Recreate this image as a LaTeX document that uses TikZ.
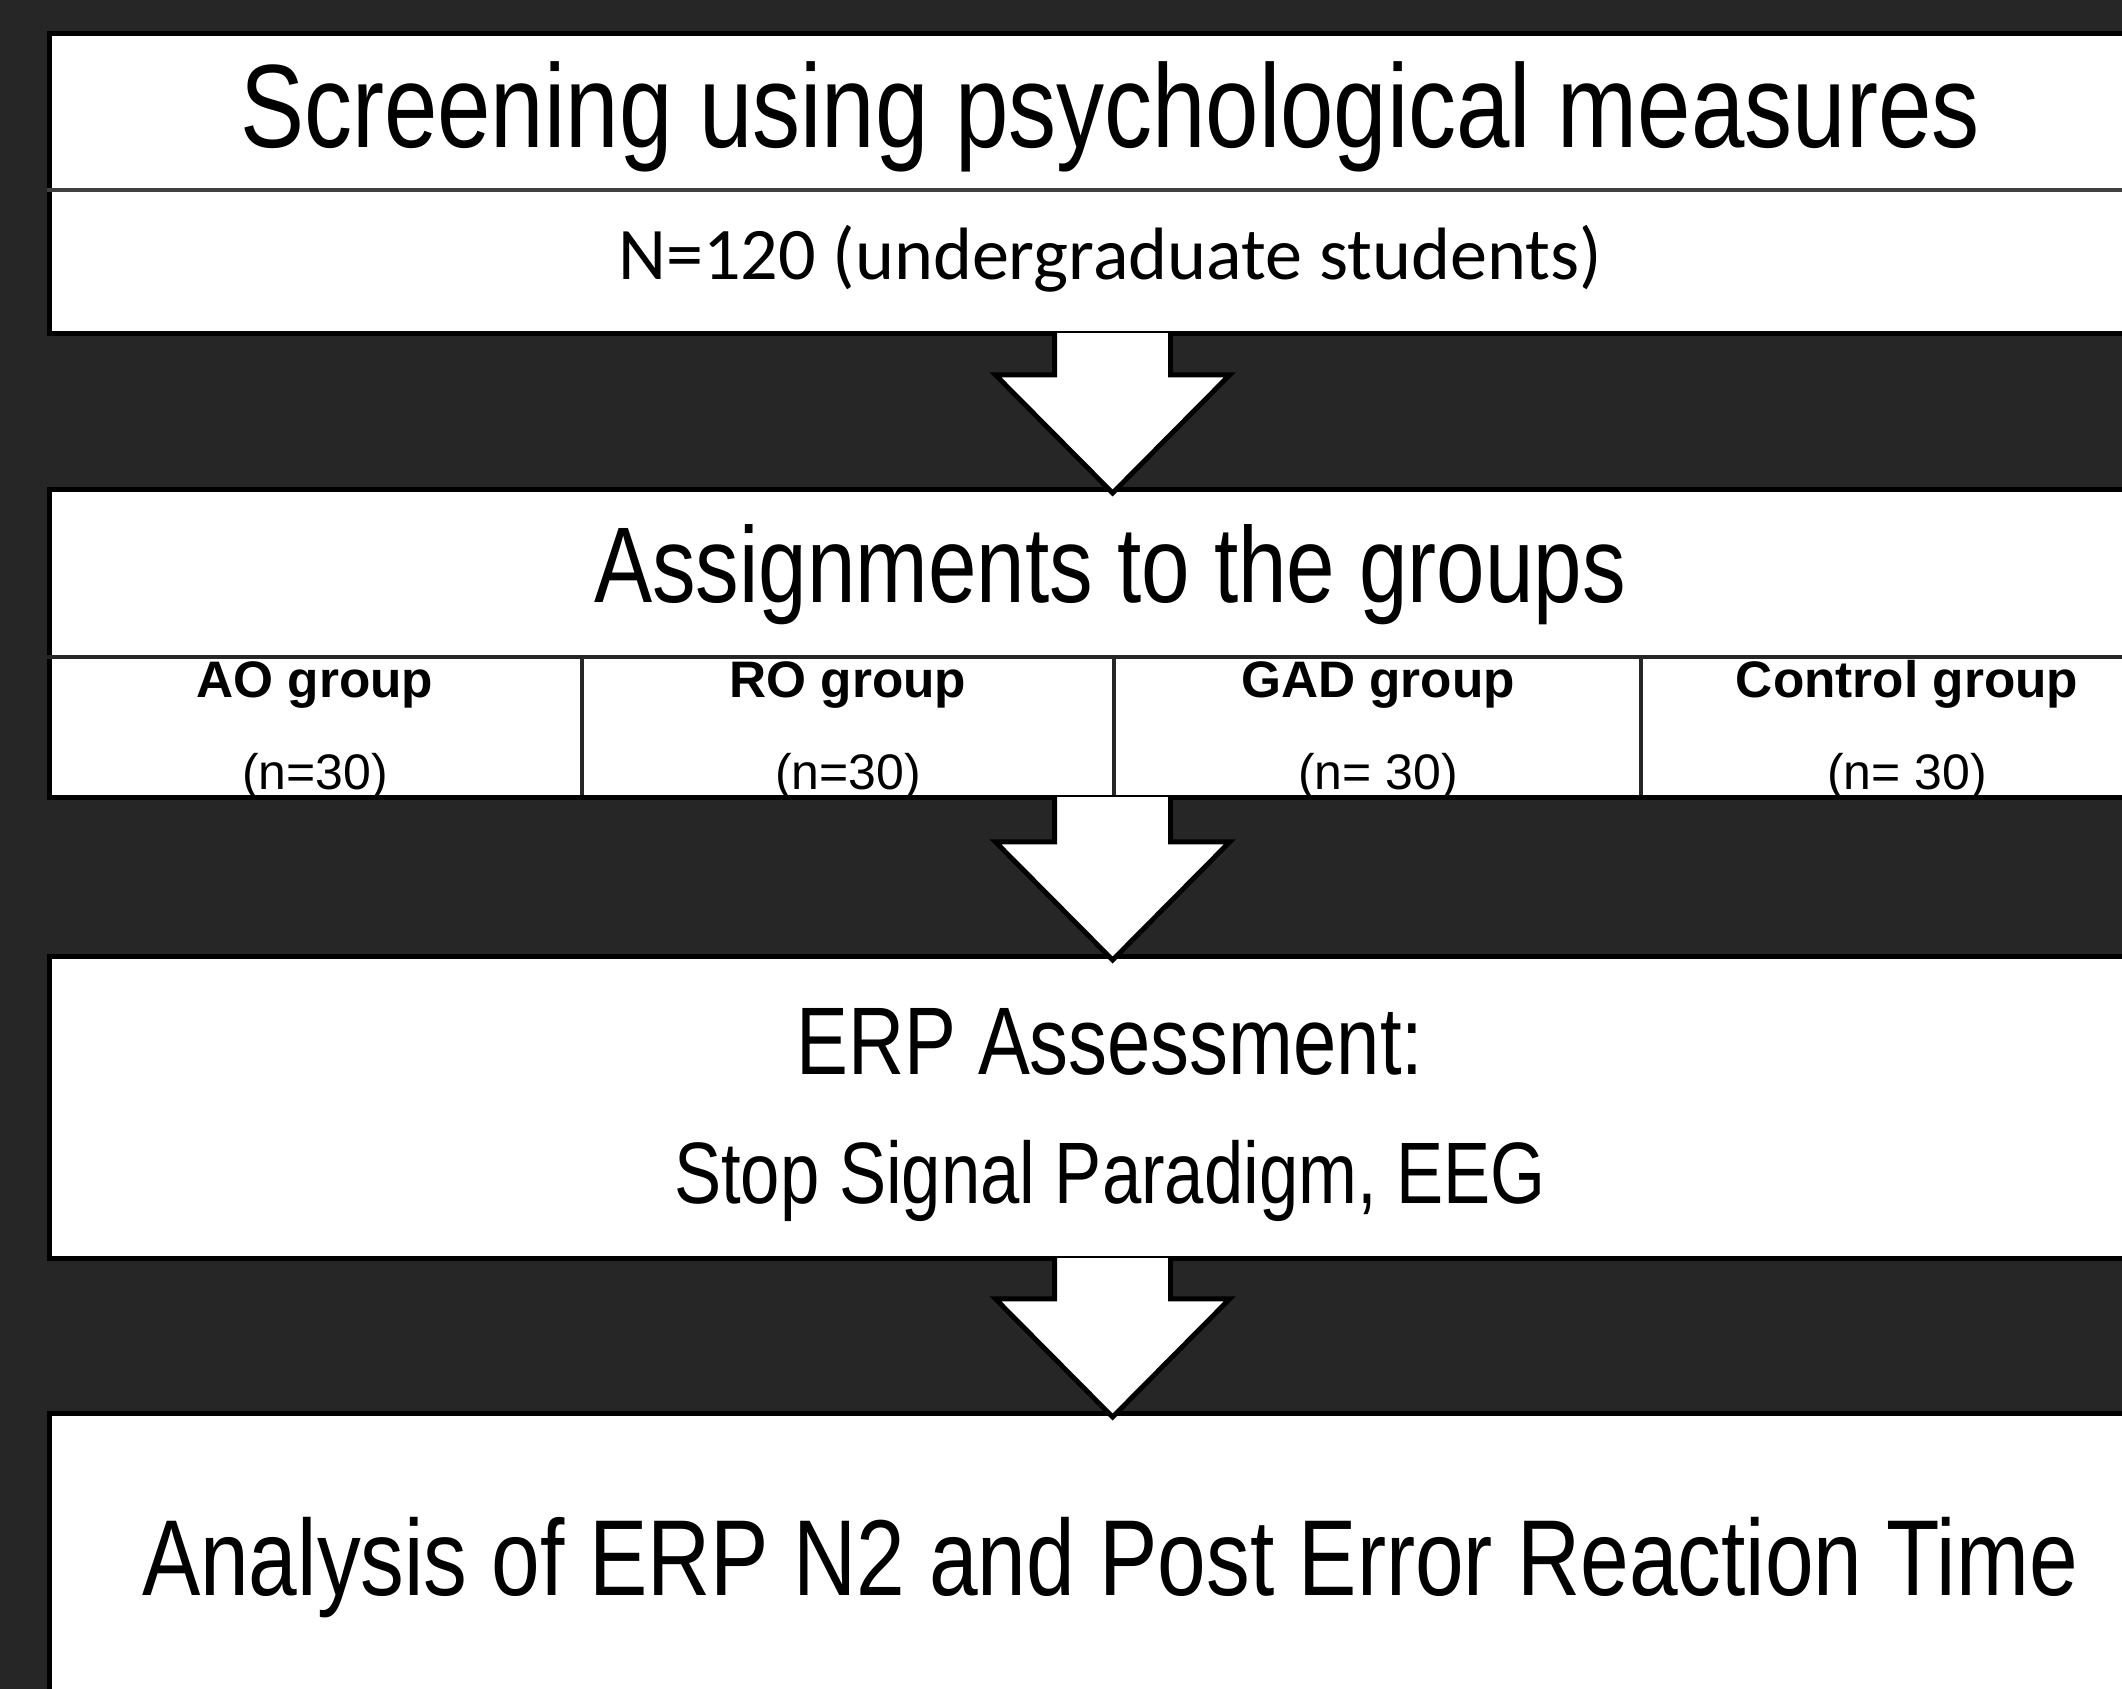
\documentclass[tikz,border=0pt]{standalone}
\usepackage{fontspec}
\setmainfont{Liberation Sans}
\newfontfamily\narrowsf[FakeStretch=0.81]{Liberation Sans}
\newfontfamily\calibrisf{Carlito}
\usetikzlibrary{calc}

\definecolor{bgdark}{HTML}{262626}
\definecolor{rulegray}{HTML}{404040}

\tikzset{
	stage/.style={draw=black, line width=1.4pt, fill=white, inner sep=0pt,
		minimum width=21.25cm, anchor=north west},
	blockarrow/.style={draw=black, line width=1.4pt, fill=white, line join=miter},
	divider/.style={draw=rulegray, line width=0.9pt},
	cellrule/.style={draw=bgdark, line width=0.9pt},
	headline/.style={anchor=base, inner sep=0pt, font=\narrowsf\fontsize{#1}{#1}\selectfont},
	plainline/.style={anchor=base, inner sep=0pt, font=\fontsize{#1}{#1}\selectfont},
	boldline/.style={anchor=base, inner sep=0pt, font=\bfseries\fontsize{#1}{#1}\selectfont}
}

% block arrow from the bottom of one stage to the top of the next
\newcommand{\stagearrow}[2]{%
	\draw[blockarrow] ([xshift=-0.58cm,yshift=0.03cm]#1.south)
		-- ([xshift=-0.58cm,yshift=1.12cm]#2.north)
		-- ([xshift=-1.17cm,yshift=1.12cm]#2.north)
		-- ([yshift=-0.06cm]#2.north)
		-- ([xshift=1.17cm,yshift=1.12cm]#2.north)
		-- ([xshift=0.58cm,yshift=1.12cm]#2.north)
		-- ([xshift=0.58cm,yshift=0.03cm]#1.south);}

\begin{document}
\begin{tikzpicture}[x=0.01cm, y=-0.01cm]
	\fill[bgdark] (0,0) rectangle (2122,1689);
	\useasboundingbox (0,0) rectangle (2122,1689);
	\clip (0,0) rectangle (2122,1689);

	% stages
	\node[stage, minimum height=3cm]    (screen)   at (47,31)   {};
	\node[stage, minimum height=3.08cm] (assign)   at (47,487)  {};
	\node[stage, minimum height=3.02cm] (erp)      at (47,954)  {};
	\node[stage, minimum height=4cm]    (analysis) at (47,1411) {};

	\draw[divider] (47,190) -- (2172,190);
	\draw[cellrule, line width=1.4pt] (47,657) -- (2172,657);
	\foreach \x in {582,1114,1641}
		\draw[cellrule] (\x,657) -- (\x,795);

	% texts
	\node[headline=33.7] (screentitle) at (1110,148) {Screening using psychological measures};
	\node[anchor=base, inner sep=0pt, font=\calibrisf\fontsize{21.1}{21.1}\selectfont]
		(sample) at (1110,280) {N=120 (undergraduate students)};
	\node[headline=30.6] (assigntitle) at (1110,603) {Assignments to the groups};

	\foreach \x/\gname/\gsize [count=\i] in {315/AO group/(n=30), 848/RO group/(n=30),
			1378/GAD group/(n= 30), 1907/Control group/(n= 30)} {
		\node[boldline=14.6] (g\i) at (\x,698) {\gname};
		\node[plainline=14.2] (n\i) at (\x,790) {\gsize};
	}

	\node[headline=27.3] (erptitle) at (1110,1074) {ERP Assessment:};
	\node[headline=24.8] (erptask) at (1110,1203) {Stop Signal Paradigm, EEG};
	\node[headline=30.7] (analysistitle) at (1110,1595) {Analysis of ERP N2 and Post Error Reaction Time};

	% arrows
	\stagearrow{screen}{assign}
	\stagearrow{assign}{erp}
	\stagearrow{erp}{analysis}
\end{tikzpicture}
\end{document}
